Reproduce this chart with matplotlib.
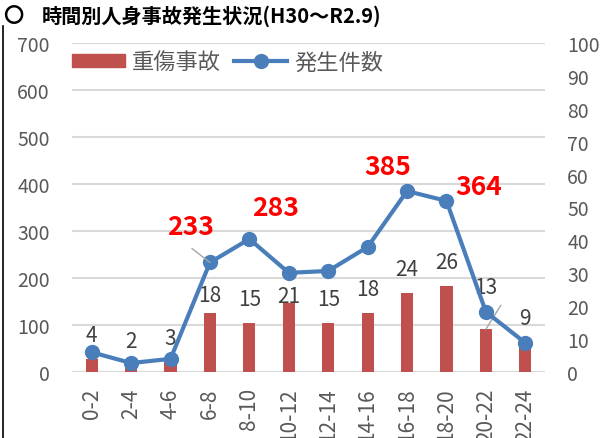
import numpy as np
import matplotlib.pyplot as plt
from matplotlib.lines import Line2D
from matplotlib.patches import Patch

plt.rcParams['font.family'] = ['Noto Sans CJK JP', 'DejaVu Sans']

hours = ['0-2', '2-4', '4-6', '6-8', '8-10', '10-12', '12-14', '14-16', '16-18', '18-20', '20-22', '22-24']
serious = [4, 2, 3, 18, 15, 21, 15, 18, 24, 26, 13, 9]          # 重傷事故 (right axis)
total = [42, 19, 28, 233, 283, 211, 215, 266, 385, 364, 128, 62]  # 発生件数 (left axis)
highlight = {3: (-19, 36), 4: (26, 31), 8: (-19, 25), 9: (32, 14)}

bar_c = '#C0504D'
line_c = '#4A7EBB'
txt_c = '#595959'

fig = plt.figure(figsize=(6.05, 4.39), dpi=100)
ax = fig.add_axes([72/605, 66/439, 473/605, 329/439])
ax2 = ax.twinx()
ax.set_zorder(ax2.get_zorder() + 1)
ax.patch.set_visible(False)

x = np.arange(len(hours))

# grid under the bars (drawn on the bar axis, scaled from the left axis)
ax2.hlines(np.arange(0, 701, 100) / 7, -0.5, 11.5, color='#d9d9d9', lw=1.5, zorder=0)
bars = ax2.bar(x, serious, width=0.31, color=bar_c, zorder=2)

# bar labels ~24 px above the bar, a few were moved in the original
lbl_off = [24] * len(serious)
lbl_off[3] = 18
lbl_off[5] = 7
lbl_off[10] = 42
for i, v in enumerate(serious):
    ax2.annotate(str(v), (x[i], v), xytext=(0, lbl_off[i]), textcoords='offset pixels',
                 ha='center', va='center', fontsize=15, color='#404040')

ax.plot(x, total, color=line_c, lw=3, marker='o', ms=10, zorder=3)
for i, (dx, dy) in highlight.items():
    ax.annotate(str(total[i]), (x[i], total[i]), xytext=(dx, dy), textcoords='offset pixels',
                ha='center', va='center', fontsize=19, fontweight='bold', color='red')

# leader lines
ax.annotate('', (x[3], total[3]), xytext=(-18, 14), textcoords='offset pixels',
            arrowprops=dict(arrowstyle='-', color='#a6a6a6', lw=1, shrinkA=0, shrinkB=0))
ax2.annotate('', (x[10], serious[10]), xytext=(15, 24), textcoords='offset pixels',
             arrowprops=dict(arrowstyle='-', color='#a6a6a6', lw=1, shrinkA=0, shrinkB=0))

ax.set_xlim(-0.5, 11.5)
ax.set_ylim(0, 700)
ax2.set_ylim(0, 100)
ax.set_yticks(np.arange(0, 701, 100))
ax2.set_yticks(np.arange(0, 101, 10))
ax.set_xticks(x)
ax.set_xticklabels(hours, rotation=90)
ax.tick_params(axis='y', length=0, pad=16, labelsize=14, labelcolor=txt_c)
ax.tick_params(axis='x', length=0, pad=11, labelsize=15, labelcolor=txt_c)
ax2.tick_params(axis='y', length=0, pad=16, labelsize=14, labelcolor=txt_c)
for a in (ax, ax2):
    for s in a.spines.values():
        s.set_visible(False)

handles = [Patch(color=bar_c),
           Line2D([0], [0], color=line_c, lw=3, marker='o', ms=10)]
ax.legend(handles, ['重傷事故', '発生件数'], ncol=2, frameon=False, loc='center',
          bbox_to_anchor=((227.5 - 72) / 473, 1 - 19/329), fontsize=16, labelcolor=txt_c,
          handlelength=2.4, handleheight=0.55, handletextpad=0.3, columnspacing=0.6)

fig.text(3/605, 1 - 16/439, '〇', fontsize=14.5, fontweight='bold', va='center', ha='left')
fig.text(42/605, 1 - 16/439, '時間別人身事故発生状況(H30～R2.9)', fontsize=14.5,
         fontweight='bold', va='center', ha='left')
fig.add_artist(Line2D([2.5/605, 2.5/605], [0, 1 - 27/439], color='black', lw=1.2,
                      transform=fig.transFigure))

plt.savefig('out.png', dpi=100)
